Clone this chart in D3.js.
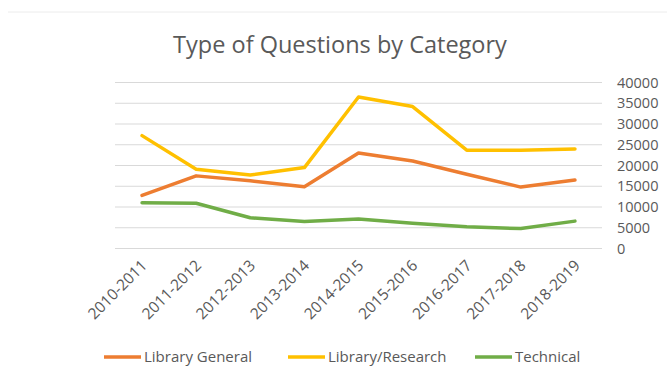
<!DOCTYPE html>
<html><head><meta charset="utf-8">
<script src="https://cdn.jsdelivr.net/npm/d3@7"></script>
<style>body{margin:0;background:#fff;}svg{display:block;font-family:"Open Sans",sans-serif;}</style>
</head><body>
<svg id="c" width="667" height="382"></svg>
<script>
const categories = ["2010-2011","2011-2012","2012-2013","2013-2014","2014-2015","2015-2016","2016-2017","2017-2018","2018-2019"];
const libraryGeneral = [12800,17500,16300,14900,23000,21100,17900,14800,16500];
const libraryResearch = [27200,19100,17700,19500,36500,34200,23700,23700,24000];
const technical = [11000,10900,7400,6500,7100,6100,5250,4800,6600];
const yTicks = [0,5000,10000,15000,20000,25000,30000,35000,40000];
const seriesNames = ["Library General","Library/Research","Technical"];
const seriesColors = ["#ED7D31","#FFC000","#70AD47"];

(function(){
const series = [libraryGeneral, libraryResearch, technical].map((v,i)=>({name:seriesNames[i], color:seriesColors[i], values:v}));

const svg = d3.select("#c");
const pL = 115, pR = 602, pT = 82.5, pB = 248.5;

svg.append("line").attr("x1",8).attr("x2",667).attr("y1",12).attr("y2",12).attr("stroke","#ececec").attr("stroke-width",1);

svg.append("text").attr("x",340).attr("y",53).attr("text-anchor","middle")
  .attr("fill","#595959").attr("font-size",23.5).text("Type of Questions by Category");

const x = d3.scaleBand().domain(categories).range([pL,pR]);
const y = d3.scaleLinear().domain([0,40000]).range([pB,pT]);

svg.append("g").selectAll("line").data(yTicks).join("line")
  .attr("x1",pL).attr("x2",pR)
  .attr("y1",d=>y(d)).attr("y2",d=>y(d))
  .attr("stroke","#d9d9d9").attr("stroke-width",1);

const ya = svg.append("g").attr("transform",`translate(${pR},0)`)
  .call(d3.axisRight(y).tickValues(yTicks).tickSize(0).tickPadding(15).tickFormat(d3.format("d")));
ya.select(".domain").remove();
ya.selectAll("text").attr("fill","#595959").attr("font-size",14.5).attr("font-family","Open Sans");

const xa = svg.append("g").attr("transform",`translate(0,${pB})`)
  .call(d3.axisBottom(x).tickSize(0).tickPadding(0));
xa.select(".domain").remove();
xa.selectAll("text")
  .attr("fill","#595959").attr("font-size",15.5).attr("font-family","Open Sans")
  .attr("text-anchor","end").attr("dy",null).attr("y",0)
  .attr("transform","translate(6,18) rotate(-45)");

const line = d3.line().x((d,i)=>x(categories[i])+x.bandwidth()/2).y(d=>y(d));
svg.append("g").selectAll("path").data(series).join("path")
  .attr("d",d=>line(d.values)).attr("fill","none")
  .attr("stroke",d=>d.color).attr("stroke-width",3.5)
  .attr("stroke-linejoin","round").attr("stroke-linecap","round");

const legX = [104,288,475];
const lg = svg.append("g").selectAll("g").data(series).join("g")
  .attr("transform",(d,i)=>`translate(${legX[i]},357)`);
lg.append("line").attr("x1",0).attr("x2",37).attr("y1",0).attr("y2",0)
  .attr("stroke",d=>d.color).attr("stroke-width",3.5);
lg.append("text").attr("x",40).attr("y",0).attr("dy","0.35em")
  .attr("fill","#595959").attr("font-size",15).text(d=>d.name);
})();
</script>
</body></html>
